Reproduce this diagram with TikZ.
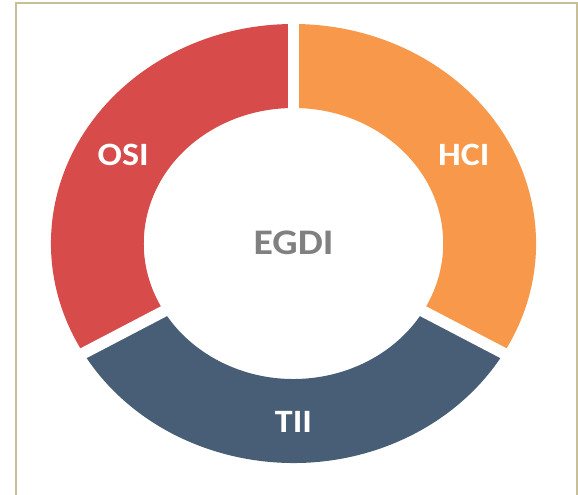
\documentclass[tikz,border=0pt]{standalone}
\usepackage{fontspec}
\setmainfont{Carlito}
\usetikzlibrary{positioning}
\definecolor{osired}{HTML}{D74B4B}
\definecolor{hciorange}{HTML}{F7984A}
\definecolor{tiiblue}{HTML}{485E76}
\definecolor{egdigray}{HTML}{808080}
\definecolor{frametan}{HTML}{C8BF99}

\begin{document}
\begin{tikzpicture}[x=1pt, y=1pt]
    % Define styles
    \tikzstyle{gap} = [draw=white, line width=11.5pt]
    \tikzstyle{seglabel} = [text=white, font=\fontsize{32.6}{36}\selectfont\bfseries, inner sep=0pt]
    \tikzstyle{hub} = [text=egdigray, font=\fontsize{36}{40}\selectfont\bfseries, inner sep=0pt]
    \tikzstyle{frame} = [draw=frametan, line width=2pt]

    \useasboundingbox (-293.5,-251.5) rectangle (284.5,243.5);

    % Frame (bottom edge lies below the picture)
    \draw[frame] (-277.5,-251.5) -- (-277.5,240) -- (283.5,240) -- (283.5,-251.5);

    \begin{scope}[xscale=1.105, transform shape]
        % Ring segments
        \fill[osired] (90:219.5) arc (90:210:219.5) -- (210:135.5) arc (210:90:135.5) -- cycle;
        \fill[tiiblue] (210:219.5) arc (210:330:219.5) -- (330:135.5) arc (330:210:135.5) -- cycle;
        \fill[hciorange] (330:219.5) arc (-30:90:219.5) -- (90:135.5) arc (90:-30:135.5) -- cycle;

        % White gaps between segments
        \coordinate (C) at (0,0);
        \draw[gap] (C) -- (90:228);
        \draw[gap] (C) -- (210:228);
        \draw[gap] (C) -- (330:228);

        % Labels
        \node[seglabel] (OSI) at (150:178) {OSI};
        \node[seglabel] (HCI) at (30:178) {HCI};
        \node[seglabel] (TII) at (270:178) {TII};
        \node[hub] (EGDI) at (0,1) {EGDI};
    \end{scope}
\end{tikzpicture}
\end{document}
